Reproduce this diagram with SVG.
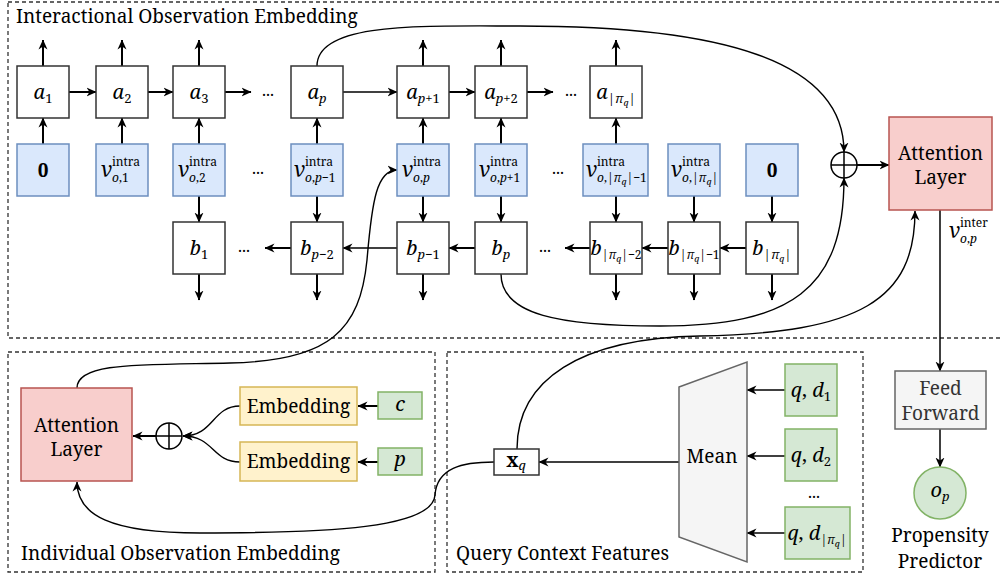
<svg xmlns="http://www.w3.org/2000/svg" width="1001" height="580" viewBox="0 0 1001 580">
<defs>
<style>
.grp{fill:none;stroke:#333;stroke-width:1.3;stroke-dasharray:4 3}
.wb{fill:#fff;stroke:#333;stroke-width:1.5}
.blue{fill:#dae8fc;stroke:#6c8ebf;stroke-width:1.5}
.red{fill:#f8cecc;stroke:#b85450;stroke-width:1.5}
.yel{fill:#fff2cc;stroke:#d6b656;stroke-width:1.5}
.grn{fill:#d5e8d4;stroke:#82b366;stroke-width:1.5}
.gry{fill:#f5f5f5;stroke:#666;stroke-width:1.5}
.t{font-family:'Noto Serif','DejaVu Serif',serif;font-size:19px;fill:#000}
.m{font-family:'Noto Serif','DejaVu Serif',serif;font-style:italic;font-size:20px;fill:#000}
.s{font-size:13px}
.u{font-size:12px}
.ss{font-size:9px}
.n{font-style:normal}
.th{fill:none;stroke:#000;stroke-width:2;marker-end:url(#ah)}
.tn{fill:none;stroke:#000;stroke-width:1.5;marker-end:url(#ah)}
.cva{fill:none;stroke:#000;stroke-width:1.4;marker-end:url(#ah)}
.dots{font-family:'Noto Serif','DejaVu Serif',serif;font-size:16px;fill:#000}
</style>
<marker id="ah" viewBox="0 0 10 10" refX="9.5" refY="5" markerWidth="10" markerHeight="10" markerUnits="userSpaceOnUse" orient="auto">
<path d="M0,0.5 L10,5 L0,9.5 L3,5 Z" fill="#000"/>
</marker>
</defs>

<g id="groups">
<rect class="grp" x="8" y="2" width="1000" height="336"/>
<rect class="grp" x="8" y="352" width="427" height="220"/>
<rect class="grp" x="447" y="352" width="416" height="220"/>
<text class="t" x="16" y="23">Interactional Observation Embedding</text>
<text class="t" x="21" y="560">Individual Observation Embedding</text>
<text class="t" x="456" y="560">Query Context Features</text>
</g>

<g id="connectors">
<line class="th" x1="43" y1="66" x2="43" y2="40"/>
<line class="th" x1="122" y1="66" x2="122" y2="40"/>
<line class="th" x1="199" y1="66" x2="199" y2="40"/>
<line class="th" x1="423" y1="66" x2="423" y2="40"/>
<line class="th" x1="501" y1="66" x2="501" y2="40"/>
<line class="th" x1="616" y1="66" x2="616" y2="40"/>
<line class="th" x1="43" y1="144" x2="43" y2="118"/>
<line class="th" x1="122" y1="144" x2="122" y2="118"/>
<line class="th" x1="199" y1="144" x2="199" y2="118"/>
<line class="th" x1="317" y1="144" x2="317" y2="118"/>
<line class="th" x1="423" y1="144" x2="423" y2="118"/>
<line class="th" x1="501" y1="144" x2="501" y2="118"/>
<line class="th" x1="616" y1="144" x2="616" y2="118"/>
<line class="th" x1="199" y1="196" x2="199" y2="222"/>
<line class="th" x1="317" y1="196" x2="317" y2="222"/>
<line class="th" x1="423" y1="196" x2="423" y2="222"/>
<line class="th" x1="501" y1="196" x2="501" y2="222"/>
<line class="th" x1="616" y1="196" x2="616" y2="222"/>
<line class="th" x1="694" y1="196" x2="694" y2="222"/>
<line class="th" x1="772" y1="196" x2="772" y2="222"/>
<line class="th" x1="199" y1="274" x2="199" y2="300"/>
<line class="th" x1="317" y1="274" x2="317" y2="300"/>
<line class="th" x1="423" y1="274" x2="423" y2="300"/>
<line class="th" x1="616" y1="274" x2="616" y2="300"/>
<line class="th" x1="694" y1="274" x2="694" y2="300"/>
<line class="th" x1="772" y1="274" x2="772" y2="300"/>
<line class="th" x1="69" y1="92" x2="96" y2="92"/>
<line class="th" x1="148" y1="92" x2="173" y2="92"/>
<line class="th" x1="225" y1="92" x2="251" y2="92"/>
<line class="tn" x1="343" y1="92" x2="397" y2="92"/>
<line class="th" x1="449" y1="92" x2="475" y2="92"/>
<line class="th" x1="527" y1="92" x2="553" y2="92"/>
<line class="th" x1="475" y1="248" x2="449" y2="248"/>
<line class="tn" x1="397" y1="248" x2="343" y2="248"/>
<line class="th" x1="291" y1="248" x2="265" y2="248"/>
<line class="th" x1="746" y1="248" x2="720" y2="248"/>
<line class="th" x1="668" y1="248" x2="642" y2="248"/>
<line class="th" x1="590" y1="248" x2="565" y2="248"/>
<path class="cva" d="M317,66 C317,22 420,26 520,26 C720,26 844,60 844,152"/>
<path class="cva" d="M501,274 C501,315 560,326 660,326 C790,326 844,290 844,178"/>
<path class="cva" d="M517,449 C517,380 580,338 700,336 C860,333 915,300 915,211"/>
<path class="cva" d="M77,388 C77,362 140,365 230,363 C330,361 360,330 367,260 C372,200 377,170 397,170"/>
<path class="cva" d="M494,462 C462,462 437,468 435,495 C433,528 330,533 200,533 C110,533 77,515 77,482"/>
<path class="cva" d="M240,406 C212,406 214,436 183,436"/>
<path class="cva" d="M240,462 C212,462 214,436 183,436"/>
<line class="th" x1="156" y1="436" x2="133" y2="436"/>
<line class="th" x1="857" y1="165" x2="889" y2="165"/>
<line class="tn" x1="940" y1="210" x2="940" y2="371"/>
<line class="tn" x1="940" y1="429" x2="940" y2="467"/>
<line class="tn" x1="785" y1="390" x2="747" y2="390"/>
<line class="tn" x1="785" y1="456" x2="747" y2="456"/>
<line class="tn" x1="785" y1="533" x2="747" y2="533"/>
<line class="tn" x1="679" y1="462" x2="539" y2="462"/>
<line class="th" x1="378" y1="406" x2="358" y2="406"/>
<line class="th" x1="378" y1="462" x2="358" y2="462"/>
</g>

<g id="dots">
<text class="dots" x="268" y="96" text-anchor="middle">...</text>
<text class="dots" x="571" y="96" text-anchor="middle">...</text>
<text class="dots" x="258" y="174" text-anchor="middle">...</text>
<text class="dots" x="558" y="174" text-anchor="middle">...</text>
<text class="dots" x="244" y="252" text-anchor="middle">...</text>
<text class="dots" x="545" y="252" text-anchor="middle">...</text>
<text class="dots" x="814" y="498" text-anchor="middle">...</text>
</g>

<g id="a1"><rect class="wb" x="17" y="66" width="52" height="52"/><text class="m" x="43" y="99" text-anchor="middle">a<tspan class="s n" dy="4">1</tspan></text></g>
<g id="a2"><rect class="wb" x="96" y="66" width="52" height="52"/><text class="m" x="122" y="99" text-anchor="middle">a<tspan class="s n" dy="4">2</tspan></text></g>
<g id="a3"><rect class="wb" x="173" y="66" width="52" height="52"/><text class="m" x="199" y="99" text-anchor="middle">a<tspan class="s n" dy="4">3</tspan></text></g>
<g id="ap"><rect class="wb" x="291" y="66" width="52" height="52"/><text class="m" x="317" y="99" text-anchor="middle">a<tspan class="s" dy="4">p</tspan></text></g>
<g id="ap1"><rect class="wb" x="397" y="66" width="52" height="52"/><text class="m" x="423" y="99" text-anchor="middle">a<tspan class="s" dy="4">p</tspan><tspan class="s n">+1</tspan></text></g>
<g id="ap2"><rect class="wb" x="475" y="66" width="52" height="52"/><text class="m" x="501" y="99" text-anchor="middle">a<tspan class="s" dy="4">p</tspan><tspan class="s n">+2</tspan></text></g>
<g id="apiq"><rect class="wb" x="590" y="66" width="52" height="52"/><text class="m" x="616" y="99" text-anchor="middle">a<tspan class="s n" dy="4">|</tspan><tspan class="s">π</tspan><tspan class="ss" dy="3">q</tspan><tspan class="s n" dy="-3">|</tspan></text></g>

<g id="v0a"><rect class="blue" x="17" y="144" width="52" height="52"/><text class="t" x="43" y="177" text-anchor="middle" font-weight="bold" font-size="20">0</text></g>
<g id="vo1"><rect class="blue" x="96" y="144" width="52" height="52"/><text class="m"><tspan x="101" y="177" font-size="21">v</tspan><tspan class="u n" x="112" y="166">intra</tspan><tspan class="u" x="112" y="182">o</tspan><tspan class="u n">,1</tspan></text></g>
<g id="vo2"><rect class="blue" x="173" y="144" width="52" height="52"/><text class="m"><tspan x="178" y="177" font-size="21">v</tspan><tspan class="u n" x="189" y="166">intra</tspan><tspan class="u" x="189" y="182">o</tspan><tspan class="u n">,2</tspan></text></g>
<g id="vop1m"><rect class="blue" x="291" y="144" width="52" height="52"/><text class="m"><tspan x="294" y="177" font-size="21">v</tspan><tspan class="u n" x="305" y="166">intra</tspan><tspan class="u" x="305" y="182">o</tspan><tspan class="u n">,</tspan><tspan class="u">p</tspan><tspan class="u n">−1</tspan></text></g>
<g id="vop"><rect class="blue" x="397" y="144" width="52" height="52"/><text class="m"><tspan x="402" y="177" font-size="21">v</tspan><tspan class="u n" x="413" y="166">intra</tspan><tspan class="u" x="413" y="182">o</tspan><tspan class="u n">,</tspan><tspan class="u">p</tspan></text></g>
<g id="vop1"><rect class="blue" x="475" y="144" width="52" height="52"/><text class="m"><tspan x="479" y="177" font-size="21">v</tspan><tspan class="u n" x="490" y="166">intra</tspan><tspan class="u" x="490" y="182">o</tspan><tspan class="u n">,</tspan><tspan class="u">p</tspan><tspan class="u n">+1</tspan></text></g>
<g id="vopim"><rect class="blue" x="583" y="144" width="65" height="52"/><text class="m"><tspan x="586" y="177" font-size="21">v</tspan><tspan class="u n" x="597" y="166">intra</tspan><tspan class="u" x="597" y="182">o</tspan><tspan class="u n">,|</tspan><tspan class="u">π</tspan><tspan class="ss" dy="3">q</tspan><tspan class="u n" dy="-3">|−1</tspan></text></g>
<g id="vopi"><rect class="blue" x="668" y="144" width="52" height="52"/><text class="m"><tspan x="671" y="177" font-size="21">v</tspan><tspan class="u n" x="682" y="166">intra</tspan><tspan class="u" x="682" y="182">o</tspan><tspan class="u n">,|</tspan><tspan class="u">π</tspan><tspan class="ss" dy="3">q</tspan><tspan class="u n" dy="-3">|</tspan></text></g>
<g id="v0b"><rect class="blue" x="746" y="144" width="52" height="52"/><text class="t" x="772" y="177" text-anchor="middle" font-weight="bold" font-size="20">0</text></g>

<g id="b1"><rect class="wb" x="173" y="222" width="52" height="52"/><text class="m" x="199" y="255" text-anchor="middle">b<tspan class="s n" dy="4">1</tspan></text></g>
<g id="bp2"><rect class="wb" x="291" y="222" width="52" height="52"/><text class="m" x="317" y="255" text-anchor="middle">b<tspan class="s" dy="4">p</tspan><tspan class="s n">−2</tspan></text></g>
<g id="bp1"><rect class="wb" x="397" y="222" width="52" height="52"/><text class="m" x="423" y="255" text-anchor="middle">b<tspan class="s" dy="4">p</tspan><tspan class="s n">−1</tspan></text></g>
<g id="bp"><rect class="wb" x="475" y="222" width="52" height="52"/><text class="m" x="501" y="255" text-anchor="middle">b<tspan class="s" dy="4">p</tspan></text></g>
<g id="bpi2"><rect class="wb" x="590" y="222" width="52" height="52"/><text class="m" x="616" y="255" text-anchor="middle">b<tspan class="u n" dy="4">|</tspan><tspan class="u">π</tspan><tspan class="ss" dy="3">q</tspan><tspan class="u n" dy="-3">|−2</tspan></text></g>
<g id="bpi1"><rect class="wb" x="668" y="222" width="52" height="52"/><text class="m" x="694" y="255" text-anchor="middle">b<tspan class="u n" dy="4">|</tspan><tspan class="u">π</tspan><tspan class="ss" dy="3">q</tspan><tspan class="u n" dy="-3">|−1</tspan></text></g>
<g id="bpi"><rect class="wb" x="746" y="222" width="52" height="52"/><text class="m" x="772" y="255" text-anchor="middle">b<tspan class="s n" dy="4">|</tspan><tspan class="s">π</tspan><tspan class="ss" dy="3">q</tspan><tspan class="s n" dy="-3">|</tspan></text></g>

<g id="plus-top"><circle cx="844" cy="165" r="13" fill="#fff" stroke="#000" stroke-width="1.5"/><path d="M831,165 H857 M844,152 V178" stroke="#000" stroke-width="1.5"/></g>
<g id="att-top"><rect class="red" x="889" y="117" width="103" height="93"/><text class="t" x="940.5" y="160" text-anchor="middle">Attention</text><text class="t" x="940.5" y="184" text-anchor="middle">Layer</text></g>
<g id="vinter-label"><text class="m"><tspan x="949" y="238" font-size="21">v</tspan><tspan class="u n" x="960" y="227">inter</tspan><tspan class="u" x="960" y="243">o</tspan><tspan class="u n">,</tspan><tspan class="u">p</tspan></text></g>
<g id="ff"><rect class="gry" x="895" y="371" width="91" height="58"/><text class="t" x="940.5" y="395" text-anchor="middle" style="fill:#333">Feed</text><text class="t" x="940.5" y="420" text-anchor="middle" style="fill:#333">Forward</text></g>
<g id="op"><circle class="grn" cx="940" cy="493" r="26"/><text class="m" x="940" y="497" text-anchor="middle" font-size="18">o<tspan class="s" dy="4">p</tspan></text></g>
<g id="pp-label"><text class="t" x="940" y="542" text-anchor="middle" font-size="18">Propensity</text><text class="t" x="940" y="568" text-anchor="middle" font-size="18">Predictor</text></g>

<g id="att-bottom"><rect class="red" x="21" y="388" width="111" height="93"/><text class="t" x="76.5" y="432" text-anchor="middle">Attention</text><text class="t" x="76.5" y="456" text-anchor="middle">Layer</text></g>
<g id="plus-bottom"><circle cx="169" cy="436" r="13" fill="#fff" stroke="#000" stroke-width="1.5"/><path d="M156,436 H182 M169,423 V449" stroke="#000" stroke-width="1.5"/></g>
<g id="emb1"><rect class="yel" x="240" y="387" width="117" height="38"/><text class="t" x="298.5" y="413" text-anchor="middle">Embedding</text></g>
<g id="emb2"><rect class="yel" x="240" y="442" width="117" height="39"/><text class="t" x="298.5" y="468" text-anchor="middle">Embedding</text></g>
<g id="c"><rect class="grn" x="378" y="392" width="44" height="27"/><text class="m" x="400" y="411" text-anchor="middle">c</text></g>
<g id="p"><rect class="grn" x="378" y="448" width="44" height="27"/><text class="m" x="400" y="466" text-anchor="middle">p</text></g>

<g id="xq"><rect class="wb" x="494" y="449" width="45" height="26"/><text class="t" x="516" y="467" text-anchor="middle" font-size="17" font-weight="bold">x<tspan class="s" font-weight="normal" font-style="italic" dy="3">q</tspan></text></g>
<g id="mean"><polygon class="gry" points="679,387 747,362 747,562 679,537"/><text class="t" x="712" y="463" text-anchor="middle">Mean</text></g>
<g id="qd1"><rect class="grn" x="785" y="364" width="52" height="52"/><text class="m" x="811" y="397" text-anchor="middle">q<tspan class="n">, </tspan>d<tspan class="s n" dy="4">1</tspan></text></g>
<g id="qd2"><rect class="grn" x="785" y="429" width="52" height="52"/><text class="m" x="811" y="462" text-anchor="middle">q<tspan class="n">, </tspan>d<tspan class="s n" dy="4">2</tspan></text></g>
<g id="qdn"><rect class="grn" x="785" y="507" width="65" height="52"/><text class="m" x="817" y="540" text-anchor="middle">q<tspan class="n">, </tspan>d<tspan class="u n" dy="4">|</tspan><tspan class="u">π</tspan><tspan class="ss" dy="3">q</tspan><tspan class="u n" dy="-3">|</tspan></text></g>
</svg>
